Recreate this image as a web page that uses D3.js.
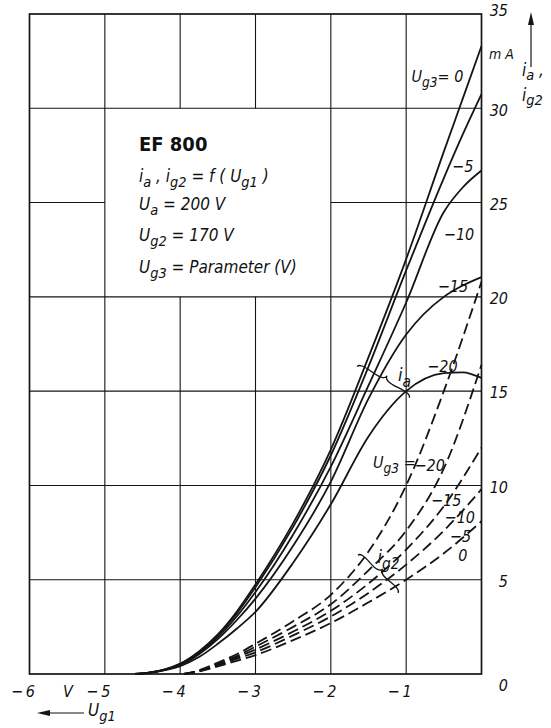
<!DOCTYPE html>
<html><head><meta charset="utf-8">
<script src="https://cdn.jsdelivr.net/npm/d3@7"></script>
<style>
html,body{margin:0;padding:0;background:#fff;}
svg{display:block;}
text{font-family:'Liberation Sans Narrow','DejaVu Sans Condensed','Roboto Condensed',Roboto,sans-serif;fill:#111;}
</style></head>
<body><svg id="c" width="551" height="728"></svg>
<script>
// ---------- data ----------
const xTicks = [-6,-5,-4,-3,-2,-1];
const yTicks = [0,5,10,15,20,25,30,35];
const ug3Params = [0,-5,-10,-15,-20];
// anode current i_a (mA) vs Ug1 (V), solid curves
const iaUg1  = [-4.6,-4.4,-4.2,-4,-3.75,-3.5,-3.25,-3,-2.5,-2,-1.5,-1,-0.5,-0.25,0];
const ia_0   = [0,0.08,0.25,0.55,1.2,2.1,3.3,4.75,8.0,11.9,16.8,22.0,27.7,30.5,33.3];
const ia_m5  = [0,0.08,0.24,0.53,1.15,2.05,3.2,4.6,7.8,11.6,16.3,21.4,26.3,28.6,30.75];
const ia_m10 = [0,0.07,0.23,0.5,1.1,1.95,3.05,4.35,7.4,11.0,15.3,19.7,24.5,25.8,26.7];
const ia_m15 = [0,0.07,0.22,0.47,1.05,1.85,2.85,4.0,6.8,10.2,14.6,18.0,20.0,20.6,21.05];
const ia_m20 = [0,0.06,0.2,0.42,0.9,1.6,2.4,3.3,5.9,9.0,12.6,15.0,15.95,16.0,15.7];
// screen-grid current i_g2 (mA) vs Ug1 (V), dashed curves
const ig2Ug1  = [-3.95,-3.75,-3.5,-3.25,-3,-2.5,-2,-1.5,-1,-0.5,0];
const ig2_m20 = [0,0.2,0.6,1.05,1.6,2.8,4.2,6.5,10.0,15.0,20.8];
const ig2_m15 = [0,0.18,0.55,0.95,1.45,2.5,3.7,5.5,7.6,10.9,16.4];
const ig2_m10 = [0,0.16,0.5,0.88,1.3,2.25,3.35,4.8,6.6,8.9,12.0];
const ig2_m5  = [0,0.15,0.45,0.8,1.15,2.05,3.05,4.3,5.8,7.6,9.8];
const ig2_0   = [0,0.13,0.4,0.7,1.0,1.8,2.7,3.8,5.0,6.4,8.1];

const iaSeries  = [ia_0, ia_m5, ia_m10, ia_m15, ia_m20];
const ig2Series = [ig2_0, ig2_m5, ig2_m10, ig2_m15, ig2_m20];

// ---------- scales ----------
const svg = d3.select('#c');
const x = d3.scaleLinear().domain([-6,0]).range([29.5,481.5]);
const y = d3.scaleLinear().domain([0,35]).range([674,14]);
const INK = '#151515';

// ---------- grid (with text box gap) ----------
const box = {x0:-5, x1:-2, y0:20, y1:30};
const g = svg.append('g');
xTicks.filter(v=>v>-6).forEach(v=>{
  const segs = (v>box.x0 && v<box.x1) ? [[0,box.y0],[box.y1,35]] : [[0,35]];
  segs.forEach(s=>g.append('line').attr('x1',x(v)).attr('x2',x(v)).attr('y1',y(s[0])).attr('y2',y(s[1]))
    .attr('stroke',INK).attr('stroke-width',1.1));
});
yTicks.filter(v=>v>0 && v<35).forEach(v=>{
  const segs = (v>box.y0 && v<box.y1) ? [[-6,box.x0],[box.x1,0]] : [[-6,0]];
  segs.forEach(s=>g.append('line').attr('y1',y(v)).attr('y2',y(v)).attr('x1',x(s[0])).attr('x2',x(s[1]))
    .attr('stroke',INK).attr('stroke-width',1.1));
});
g.append('rect').attr('x',x(-6)).attr('y',y(35)).attr('width',x(0)-x(-6)).attr('height',y(0)-y(35))
  .attr('fill','none').attr('stroke',INK).attr('stroke-width',1.7);

// ---------- curves ----------
const line = d3.line().x(d=>x(d[0])).y(d=>y(d[1])).curve(d3.curveMonotoneX);
iaSeries.forEach(s=>{
  svg.append('path').attr('d',line(iaUg1.map((u,i)=>[u,s[i]])))
    .attr('fill','none').attr('stroke',INK).attr('stroke-width',1.8);
});
ig2Series.forEach(s=>{
  svg.append('path').attr('d',line(ig2Ug1.map((u,i)=>[u,s[i]])))
    .attr('fill','none').attr('stroke',INK).attr('stroke-width',1.8).attr('stroke-dasharray','11,5');
});

// ---------- axes labels ----------
const ya = svg.append('g').attr('transform','translate(508,0)')
  .call(d3.axisRight(y).tickValues(yTicks).tickSize(0).tickFormat(d=>d));
ya.select('.domain').remove();
ya.selectAll('text').attr('x',0).attr('text-anchor','end')
  .attr('font-size',16).attr('font-style','italic').attr('font-family',null).attr('fill',INK)
  .attr('dy',d=> d===0 ? '1.05em' : d===35 ? '0.1em' : '0.42em');

const xa = svg.append('g').attr('transform','translate(0,697)')
  .call(d3.axisBottom(x).tickValues(xTicks).tickSize(0).tickFormat(d=>'\u2212\u2009'+Math.abs(d)));
xa.select('.domain').remove();
xa.selectAll('text').attr('y',0).attr('dy',0).attr('x',5).attr('text-anchor','end')
  .attr('font-size',16).attr('font-style','italic').attr('font-family',null).attr('fill',INK);

// ---------- rich text helper ----------
function rich(xp, yp, parts, size, opts={}){
  const t = svg.append('text').attr('x',xp).attr('y',yp).attr('font-size',size)
    .attr('font-style', opts.upright ? 'normal' : 'italic')
    .attr('font-weight', opts.bold ? 600 : 400)
    .attr('text-anchor', opts.anchor || 'start');
  let shift = 0;
  parts.forEach(p=>{
    const sub = Array.isArray(p);
    const txt = sub ? p[0] : p;
    const target = sub ? size*(opts.subShift||0.32) : 0;
    const ts = t.append('tspan').text(txt).attr('dy', target-shift);
    if(sub) ts.attr('font-size', size*0.85);
    shift = target;
  });
  return t;
}

rich(489,59,['m A'],14);
rich(63,697,['V'],16);

// right axis arrow + label
svg.append('line').attr('x1',531).attr('x2',531).attr('y1',67).attr('y2',22).attr('stroke',INK).attr('stroke-width',1.2);
svg.append('path').attr('d','M531,12 L528,25 L534,25 Z').attr('fill',INK);
rich(522,76,['i',['a'],' ,'],17,{subShift:0.22});
rich(522,101,['i',['g2']],17,{subShift:0.22});

// bottom arrow + label
svg.append('line').attr('x1',48).attr('x2',84).attr('y1',713).attr('y2',713).attr('stroke',INK).attr('stroke-width',1.2);
svg.append('path').attr('d','M37,713 L50,710 L50,716 Z').attr('fill',INK);
rich(88,716,['U',['g1']],17);

// title block
rich(139,151,['EF 800'],20,{upright:true,bold:true});
rich(139,182,['i',['a'],' , i',['g2'],' = f ( U',['g1'],' )'],17);
rich(139,210,['U',['a'],' = 200 V'],17);
rich(139,241,['U',['g2'],' = 170 V'],17);
rich(139,273,['U',['g3'],' = Parameter (V)'],17);

// curve labels (data coordinates)
const iaLabels = [
  {u:-0.93, i:31.4, parts:['U',['g3'],'= 0']},
  {u:-0.39, i:26.6, parts:['\u22125']},
  {u:-0.50, i:23.0, parts:['\u221210']},
  {u:-0.58, i:20.25, parts:['\u221215']},
  {u:-0.72, i:16.0, parts:['\u221220']}
];
iaLabels.forEach(l=>rich(x(l.u), y(l.i), l.parts, 16));
const ig2Labels = [
  {u:-1.44, i:10.95, parts:['U',['g3'],' = ']},
  {u:-0.89, i:10.75, parts:['\u221220']},
  {u:-0.67, i:8.9, parts:['\u221215']},
  {u:-0.49, i:8.0, parts:['\u221210']},
  {u:-0.42, i:7.0, parts:['\u22125']},
  {u:-0.31, i:6.0, parts:['0']}
];
ig2Labels.forEach(l=>rich(x(l.u), y(l.i), l.parts, 16));

// braces
function brace(x1,y1,x2,y2,w,q){
  const len=Math.hypot(x1-x2,y1-y2);
  const dx=(x1-x2)/len, dy=(y1-y2)/len;
  const qx1=x1+q*w*dy, qy1=y1-q*w*dx;
  const qx2=(x1-.25*len*dx)+(1-q)*w*dy, qy2=(y1-.25*len*dy)-(1-q)*w*dx;
  const tx1=(x1-.5*len*dx)+w*dy, ty1=(y1-.5*len*dy)-w*dx;
  const qx3=x2+q*w*dy, qy3=y2-q*w*dx;
  const qx4=(x1-.75*len*dx)+(1-q)*w*dy, qy4=(y1-.75*len*dy)-(1-q)*w*dx;
  return `M${x1},${y1} Q${qx1},${qy1} ${qx2},${qy2} T${tx1},${ty1} M${x2},${y2} Q${qx3},${qy3} ${qx4},${qy4} T${tx1},${ty1}`;
}
const braces = [
  {a:[-1.65,16.3], b:[-0.96,14.65], w:-7.5},
  {a:[-1.64,6.3],  b:[-1.11,4.3],  w:-7}
];
braces.forEach(b=>svg.append('path').attr('d',brace(x(b.a[0]),y(b.a[1]),x(b.b[0]),y(b.b[1]),b.w,0.6))
  .attr('fill','none').attr('stroke',INK).attr('stroke-width',1.3));
rich(x(-1.11), y(15.55), ['i',['a']], 18);
rich(x(-1.38), y(5.9), ['i',['g2']], 18);
</script></body></html>
